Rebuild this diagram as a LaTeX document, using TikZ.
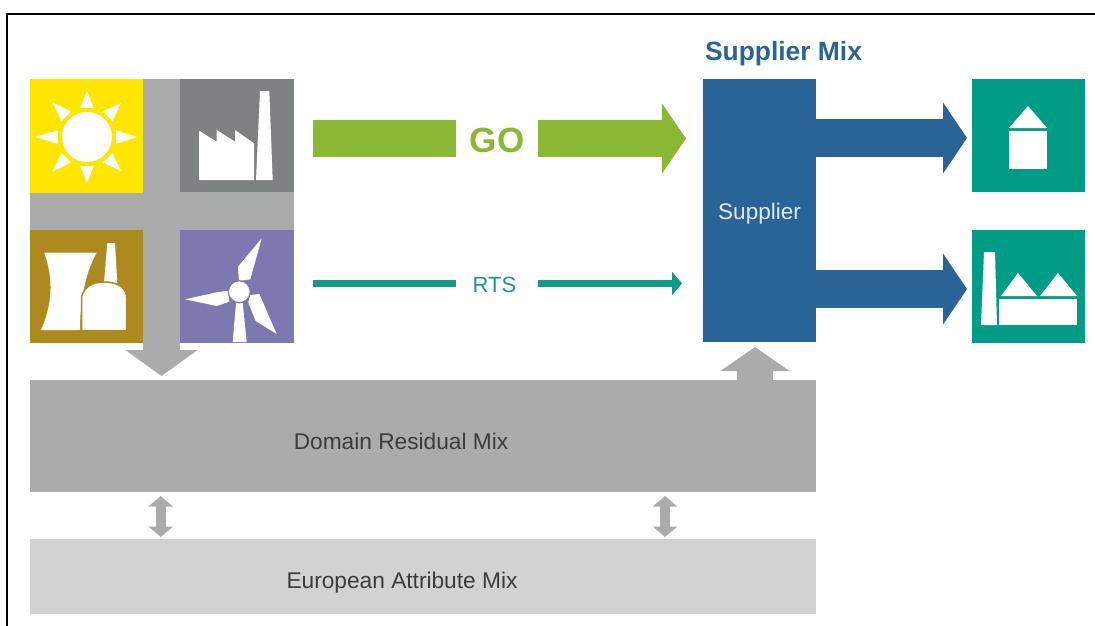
\documentclass[tikz,border=0pt]{standalone}
\usepackage{fontspec}
\setmainfont{Liberation Sans}
\usetikzlibrary{arrows.meta,calc}
\definecolor{sunY}{HTML}{FFE600}
\definecolor{factG}{HTML}{7F8282}
\definecolor{nucB}{HTML}{AE8A1E}
\definecolor{windP}{HTML}{7E78B0}
\definecolor{crossG}{HTML}{A9ACAB}
\definecolor{tealB}{HTML}{009C86}
\definecolor{supB}{HTML}{2A6496}
\definecolor{goG}{HTML}{8AB833}
\definecolor{rtsT}{HTML}{129A85}
\definecolor{euroG}{HTML}{D2D2D2}
\definecolor{txtD}{HTML}{3C3C3C}
\tikzset{
  tile/.style={inner sep=0pt,outer sep=0pt,minimum width=#1,minimum height=113pt},
  lbl/.style={inner sep=0pt,font=\fontsize{22.7}{26}\selectfont,text=txtD},
  icon/.style={fill=white,draw=none},
  goarrow/.style={draw=goG,line width=37pt,-{Triangle[length=24pt,width=69pt]}},
  gobar/.style={draw=goG,line width=37pt},
  rtsarrow/.style={draw=rtsT,line width=7pt,-{Triangle[length=10pt,width=23pt]}},
  rtsbar/.style={draw=rtsT,line width=7pt},
  suparrow/.style={draw=supB,line width=38pt,-{Triangle[length=24pt,width=70pt]}},
  flowarrow/.style={draw=crossG,line width=37pt,-{Triangle[length=26pt,width=71pt]}},
  uparrow/.style={draw=crossG,line width=36pt,-{Triangle[length=24pt,width=68pt]}},
  linkarrow/.style={draw=crossG,line width=10pt,{Triangle[length=10.5pt,width=24pt]}-{Triangle[length=10.5pt,width=24pt]}},
}
\begin{document}
\begin{tikzpicture}[x=1pt,y=-1pt]
\useasboundingbox (0,0) rectangle (1095,626);
\fill[white] (0,0) rectangle (1095,626);
% frame
\draw[black,line width=2pt] (7,626) -- (7,14) -- (1095,14);

% band and flow behind the tiles
\node[fill=crossG,inner sep=0pt,minimum width=264pt,minimum height=38pt] (band) at (162,211) {};
\node[fill=sunY,tile=113pt] (sun) at (86.5,136) {};
\node[fill=factG,tile=114pt] (factory) at (237,135.5) {};
\node[fill=nucB,tile=113pt] (nuclear) at (86.5,286) {};
\node[fill=windP,tile=114pt] (wind) at (237,286) {};

% residual and attribute bars
\node[fill=crossG,inner sep=0pt,minimum width=786pt,minimum height=112pt] (domain) at (423,436) {};
\node[fill=euroG,inner sep=0pt,minimum width=786pt,minimum height=75pt] (europe) at (423,576.5) {};
\node[lbl] (domainlbl) at (401,441) {Domain Residual Mix};
\node[lbl] (europelbl) at (402,583) {European Attribute Mix};

% supplier and consumers
\node[fill=supB,inner sep=0pt,minimum width=113pt,minimum height=263pt] (supplier) at (759.5,210.5) {};
\node[inner sep=0pt,text=white!86!supB,font=\fontsize{22.5}{25}\selectfont] (supplierlbl) at (759.5,214) {Supplier};
\node[inner sep=0pt,text=supB,font=\bfseries\fontsize{26.4}{28}\selectfont] (suppliermix) at (783.5,53.5) {Supplier Mix};
\node[fill=tealB,tile=113pt] (home) at (1028.5,135.5) {};
\node[fill=tealB,tile=113pt] (plant) at (1028.5,286) {};

% named ends
\coordinate (flowtop) at (161.5,79);
\coordinate (flowtip) at (161.5,376);
\coordinate (upfoot) at (755,381);
\coordinate (uptip) at (755,347);
\coordinate (goL) at (313,138.5);
\coordinate (goLe) at (456,138.5);
\coordinate (goR) at (538,138.5);
\coordinate (goTip) at (686,138.5);
\coordinate (rtsL) at (313,283.5);
\coordinate (rtsLe) at (456,283.5);
\coordinate (rtsR) at (538,283.5);
\coordinate (rtsTip) at (682,283.5);
\coordinate (homeTip) at (967,138);
\coordinate (plantTip) at (967,289);
\coordinate (linkA) at (160.7,496);
\coordinate (linkAe) at (160.7,537);
\coordinate (linkB) at (665,496);
\coordinate (linkBe) at (665,537);

% connectors
\draw[flowarrow] (flowtop) -- (flowtip);
\draw[uparrow] (upfoot) -- (uptip);
\draw[gobar] (goL) -- (goLe);
\draw[goarrow] (goR) -- (goTip);
\draw[rtsbar] (rtsL) -- (rtsLe);
\draw[rtsarrow] (rtsR) -- (rtsTip);
\draw[suparrow] (supplier.east |- homeTip) -- (homeTip);
\draw[suparrow] (supplier.east |- plantTip) -- (plantTip);
\draw[linkarrow] (linkA) -- (linkAe);
\draw[linkarrow] (linkB) -- (linkBe);

\node[inner sep=0pt,text=goG,font=\bfseries\fontsize{35}{38}\selectfont] (golbl) at (497,140) {GO};
\node[inner sep=0pt,text=rtsT!85!gray,font=\fontsize{22}{24}\selectfont] (rtslbl) at (494.5,284.5) {RTS};

% sun icon
\fill[icon] (87,137) circle (25pt);
\foreach \a/\r in {90/46,45/48,0/50,-45/48,-90/46,-135/49,180/52,135/49}{
  \fill[icon] ($(87,137)+(\a:\r)$) -- ($(87,137)+(\a+13:30)$) -- ($(87,137)+(\a-13:30)$) -- cycle;
}
% factory icon
\fill[icon] (260,91) -- (269.3,91) -- (272.7,180) -- (256,180) -- cycle;
\fill[icon] (199,130.7) -- (216.7,141.7) -- (216.7,130) -- (235,141.7) -- (235,130) -- (254,143.3) -- (254,180) -- (199,180) -- cycle;
% nuclear icon
\fill[icon] (44.3,252.7) -- (96.7,252.7) .. controls (84,275) and (80,305) .. (80,330) -- (41,330) .. controls (52,305) and (54,280) .. cycle;
\fill[icon] (107.3,243) -- (115,243) -- (117.3,283) -- (104,283) -- cycle;
\draw[icon,draw=nucB,line width=1.5pt] (81.5,331) -- (81.5,297) .. controls (84,287) and (92,282) .. (104,282) .. controls (118,282) and (126.5,288) .. (126.5,297) -- (126.5,331);
\fill[nucB] (78,330) rectangle (129,332);
% wind icon
\fill[icon] (261.7,238.3) -- (238,266.7) -- (239,281) -- (250.3,279.3) -- cycle;
\fill[icon] (185,299.3) -- (216.7,292.3) -- (228.3,290.7) -- (229.3,301.7) -- (216.7,306) -- cycle;
\fill[icon] (276.7,334) -- (259.3,294) -- (250,295) -- (248.3,302.7) -- (255.7,321) -- cycle;
\fill[icon] (236,303) -- (242.7,303) -- (246.7,342) -- (232.7,342) -- cycle;
\draw[icon,draw=windP,line width=1.2pt] (239.3,291.7) circle (11pt);
% house icon
\fill[icon] (1028,106) -- (1047,128) -- (1009,128) -- cycle;
\fill[icon] (1009,131) rectangle (1047,169);
% plant icon
\fill[icon] (984,252) -- (995,252) -- (997,325) -- (981,325) -- cycle;
\fill[icon] (999,299) rectangle (1077,325);
\fill[icon] (1001,296) -- (1018,273) -- (1037,296) -- cycle;
\fill[icon] (1040,296) -- (1058,273) -- (1077,296) -- cycle;
\end{tikzpicture}
\end{document}
